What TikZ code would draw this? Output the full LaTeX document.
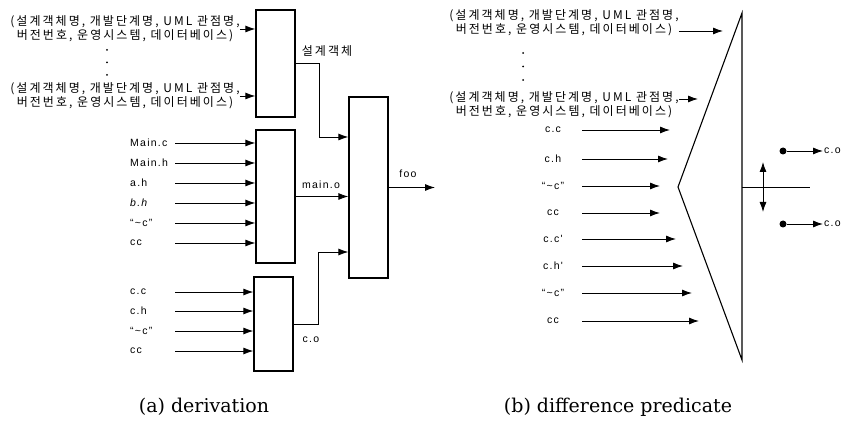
\documentclass[tikz,border=0pt]{standalone}
\usepackage{fontspec}
\setmainfont{Liberation Sans}
\newfontfamily\krfont{Noto Sans CJK KR}[LetterSpace=17]
\newfontfamily\lblfont{Liberation Sans}[LetterSpace=12]
\newfontfamily\capfont{DejaVu Serif}
\usetikzlibrary{arrows.meta}
\tikzset{
  blk/.style={draw, line width=1.3pt, minimum width=39pt, inner sep=0pt},
  lbl/.style={font=\lblfont\fontsize{10.5}{13}\selectfont, inner sep=1pt},
  kor/.style={font=\krfont\fontsize{12}{14}\selectfont, align=center, inner sep=0pt},
  src/.style={lbl, text width=44pt, align=left, anchor=west},
  srcb/.style={lbl, text width=56pt, align=center},
  arr/.style={line width=0.9pt, -{Latex[length=10pt,width=7pt]}},
  dbl/.style={line width=0.9pt, {Latex[length=10pt,width=7pt]}-{Latex[length=10pt,width=7pt]}},
  dot/.style={circle, fill, inner sep=0pt, minimum size=7pt},
}
\begin{document}
\begin{tikzpicture}[x=1pt, y=-1pt]
  \useasboundingbox (0,0) rectangle (846,422);
  \def\kone{(설계객체명, 개발단계명, UML 관점명,\\버전번호, 운영시스템, 데이터베이스)}

  % (a) derivation
  \node[blk, minimum height=107pt] (obj) at (275.5,63.5) {};
  \node[blk, minimum height=133pt] (mainbox) at (275.5,196.5) {};
  \node[blk, minimum height=94pt] (cbox) at (273.5,324) {};
  \node[blk, minimum height=181pt] (link) at (368.5,187.5) {};

  \node[kor] (ka) at (125,29) {\kone};
  \node[kor] (kb) at (125,96) {\kone};
  \draw[arr] (ka.east) -- (obj.west |- ka.east);
  \draw[arr] (kb.east) -- (obj.west |- kb.east);
  \foreach \y in {50,62.5,75} \fill (107,\y) circle (1pt);

  \foreach \n/\t/\y in {mc/Main.c/143, mh/Main.h/163, ah/a.h/183, bh/\textit{b.h}/203, nc/“\textasciitilde c”/223, cc/cc/243}{
    \node[src] (\n) at (129,\y) {\t};
    \draw[arr] (\n.east) -- (mainbox.west |- \n.east);
  }
  \foreach \n/\t/\y in {cc1/c.c/292, ch1/c.h/311, nc1/“\textasciitilde c”/331, cc2/cc/351}{
    \node[src] (\n) at (129,\y) {\t};
    \draw[arr] (\n.east) -- (cbox.west |- \n.east);
  }

  \coordinate (objbend) at (319,137);
  \draw[arr] (obj.east) -| (objbend) -- (link.west |- objbend);
  \draw[arr] (mainbox.east) -- (link.west |- mainbox.east);
  \coordinate (cbend) at (318,252);
  \draw[arr] (cbox.east) -| (cbend) -- (link.west |- cbend);
  \coordinate (foo) at (435,187.5);
  \draw[arr] (link.east) -- (foo);

  \node[kor] (objlbl) at (327,51) {설계객체};
  \node[lbl] (mainlbl) at (321,185) {main.o};
  \node[lbl] (colbl) at (311,340) {c.o};
  \node[lbl] (foolbl) at (408,174) {foo};

  % (b) difference predicate
  \coordinate (ptop) at (742,13);
  \coordinate (ptip) at (678,187);
  \coordinate (pbot) at (742,360);
  \draw[line width=1.1pt] (ptop) -- (ptip) -- (pbot) -- cycle;

  \node[kor] (pka) at (564,23) {\kone};
  \node[kor] (pkb) at (564,105) {\kone};
  \coordinate (pea) at (723,31);
  \coordinate (peb) at (698,99);
  \draw[arr] ([yshift=-8pt]pka.east) -- (pea);
  \draw[arr] ([yshift=6pt]pkb.east) -- (peb);
  \foreach \y in {53,66.5,80} \fill (523,\y) circle (1pt);

  \foreach \n/\t/\y/\e in {pc1/c.c/130/670, ph1/c.h/159/668, pn1/“\textasciitilde c”/186/660, pk1/cc/213/660,
                           pc2/c.c'/239/676, ph2/c.h'/266/683, pn2/“\textasciitilde c”/293/692, pk2/cc/321/699}{
    \node[srcb] (\n) at (553,\y) {\t};
    \coordinate (\n e) at (\e,\y);
    \draw[arr] (\n.east) -- (\n e);
  }

  \coordinate (pout) at (810,187);
  \draw[line width=0.9pt] (ptip -| ptop) -- (pout);
  \coordinate (swup) at (763,162);
  \coordinate (swdn) at (763,212);
  \draw[dbl] (swup) -- (swdn);
  \node[dot] (da) at (783,151) {};
  \node[dot] (db) at (783,224) {};
  \coordinate (oa) at (823,151);
  \coordinate (ob) at (823,224);
  \draw[arr] (da) -- (oa);
  \draw[arr] (db) -- (ob);
  \node[lbl, anchor=west] (oalbl) at (oa) {c.o};
  \node[lbl, anchor=west] (oblbl) at (ob) {c.o};

  % captions
  \node[font=\capfont\fontsize{19}{22}\selectfont] (capa) at (204,407) {(a) derivation};
  \node[font=\capfont\fontsize{19}{22}\selectfont] (capb) at (618,407) {(b) difference predicate};
\end{tikzpicture}
\end{document}
